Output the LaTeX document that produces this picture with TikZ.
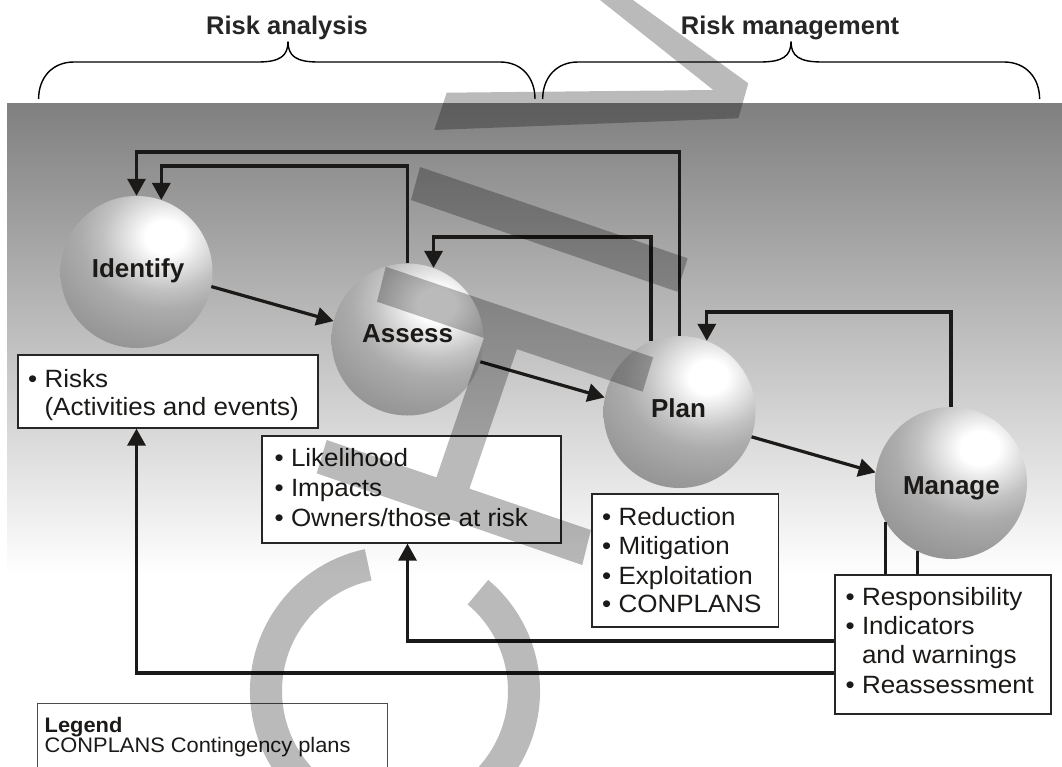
\documentclass[tikz,border=0pt]{standalone}
\usepackage{fontspec}
\setmainfont{Liberation Sans}
\newfontfamily\wf{Liberation Sans}[FakeStretch=1.04]
\usetikzlibrary{arrows.meta,calc}

\definecolor{s0}{RGB}{255,255,255}
\definecolor{s1}{RGB}{226,226,226}
\definecolor{s2}{RGB}{194,194,194}
\definecolor{s3}{RGB}{172,172,172}
\definecolor{s4}{RGB}{156,156,156}
\definecolor{s5}{RGB}{136,136,136}
\definecolor{s6}{RGB}{104,104,104}
\definecolor{s7}{RGB}{76,76,76}
\definecolor{s8}{RGB}{62,62,62}
\definecolor{ink}{RGB}{28,26,24}
\pgfdeclareradialshading{sph}{\pgfpointorigin}{color(0bp)=(s0); color(3.5bp)=(s0); color(7bp)=(s1); color(11bp)=(s2); color(15bp)=(s3); color(21bp)=(s4); color(30bp)=(s5); color(40bp)=(s6); color(46bp)=(s7); color(50bp)=(s8)}

\tikzset{
  sphere/.style={circle, minimum size=152pt, inner sep=0pt,
    path picture={\shade[shading=sph] ($(path picture bounding box.center)+(28.7,-35)$) ellipse [x radius=140, y radius=120];}},
  splabel/.style={font=\fontsize{26}{30}\selectfont\bfseries, text=ink, inner sep=0pt, anchor=base},
  head/.style={font=\fontsize{25.5}{30}\selectfont\bfseries, text=black!85, inner sep=0pt, anchor=base},
  infobox/.style={draw=black!85, line width=1.6pt, fill=white, inner sep=0pt, anchor=north west},
  btxt/.style={font=\wf\fontsize{25}{30}\selectfont, text=ink, inner sep=0pt, anchor=base west},
  lgtxt/.style={font=\wf\fontsize{21}{24}\selectfont, text=ink, inner sep=0pt, anchor=base west},
  conn/.style={draw=ink, line width=3.2pt},
  arr/.style={conn, -{Triangle[length=17pt,width=18pt]}},
  brace/.style={draw=black, line width=1.4pt},
  wm/.style={fill=black, fill opacity=0.27}
}

\begin{document}
\begin{tikzpicture}[x=1pt,y=-1pt]
\useasboundingbox (0,0) rectangle (1062,766);
\clip (0,0) rectangle (1062,766);
\fill[white] (0,0) rectangle (1062,766);
\shade[top color=gray, bottom color=white] (7,103) rectangle (1062,575);

% braces and headings
\draw[brace] (38.6,99) .. controls (38.6,78) and (52,62) .. (74,62) -- (258,62)
  .. controls (280,62) and (288,56) .. (288,41.5)
  .. controls (288,56) and (296,62) .. (318,62) -- (500,62)
  .. controls (522,62) and (535,78) .. (535,99);
\draw[brace] (542.7,99) .. controls (542.7,78) and (556,62) .. (578,62) -- (760,62)
  .. controls (783,62) and (791,56) .. (791,41.5)
  .. controls (791,56) and (799,62) .. (822,62) -- (1004,62)
  .. controls (1026,62) and (1039.6,78) .. (1039.6,99);
\node[head] (hra) at (287,34.3) {Risk analysis};
\node[head] (hrm) at (790,34.3) {Risk management};

% spheres
\node[sphere] (identify) at (136.5,272) {};
\node[sphere] (assess) at (407.5,339.5) {};
\node[sphere] (plan) at (679.5,412) {};
\node[sphere] (manage) at (951,483) {};
\node[splabel] (identifyL) at (138,277.3) {Identify};
\node[splabel] (assessL) at (407.6,342.8) {Assess};
\node[splabel] (planL) at (678.5,417.8) {Plan};
\node[splabel] (manageL) at (951.4,494) {Manage};

% connectors
\draw[arr] (identify.-11) -- (assess.166);
\draw[arr] (assess.-17) -- (plan.169);
\draw[arr] (plan.-19) -- (manage.172);
\draw[arr] (plan.north) -- (plan.north |- 0,152) -- (identify.north |- 0,152) -- (identify.north);
\draw[arr] (assess.north) -- (assess.north |- 0,166) -| (identify.71);
\draw[arr] (plan.112) -- (plan.112 |- 0,237) -| (assess.70);
\draw[arr] (manage.north) -- (manage.north |- 0,312) -| (plan.69);

% boxes
\node[infobox, minimum width=300pt, minimum height=73pt] (risks) at (17,354) {};
\node[infobox, minimum width=299pt, minimum height=107pt] (lik) at (261,435) {};
\node[infobox, minimum width=186.5pt, minimum height=133pt] (planbox) at (591,493) {};

\draw[arr] (manage.-149) -- (manage.-149 |- 0,641) -- (assess.south |- 0,641) -- (lik.south -| assess.south);
\draw[arr] (manage.-116) -- (manage.-116 |- 0,673) -- (identify.south |- 0,673) -- (risks.south -| identify.south);

\node[infobox, minimum width=216pt, minimum height=139pt] (mgbox) at (834,574) {};
\node[infobox, draw=black!70, line width=1pt, minimum width=349.4pt, minimum height=80pt] (legend) at (37.3,703.3) {};

% box texts
\node[btxt] (r1) at (28,387) {• Risks};
\node[btxt] (r2) at (28,415) {\hphantom{• }(Activities and events)};
\node[btxt] (l1) at (274.5,466.7) {• Likelihood};
\node[btxt] (l2) at (274.5,496) {• Impacts};
\node[btxt] (l3) at (274.5,526) {• Owners/those at risk};
\node[btxt] (p1) at (602,525) {• Reduction};
\node[btxt] (p2) at (602,554) {• Mitigation};
\node[btxt] (p3) at (602,584) {• Exploitation};
\node[btxt] (p4) at (602,612.7) {• CONPLANS};
\node[btxt] (m1) at (845.5,605) {• Responsibility};
\node[btxt] (m2) at (845.5,634) {• Indicators};
\node[btxt] (m3) at (845.5,663) {\hphantom{• }and warnings};
\node[btxt] (m4) at (845.5,693.3) {• Reassessment};
\node[lgtxt, font=\wf\fontsize{21}{24}\selectfont\bfseries] (lg1) at (44.5,732.7) {Legend};
\node[lgtxt] (lg2) at (44.5,752.7) {CONPLANS Contingency plans};

% watermark
\fill[wm] (587.4,-10) -- (619.1,-10) -- (748.3,83.3) -- (738.3,118.3) -- (434.3,130) -- (446.7,92.7) -- (713.3,90) -- cycle
  (420,167) -- (687.6,258.3) -- (677.3,291.7) -- (411,200) -- cycle
  (385.7,266.7) -- (653.1,357.3) -- (642.7,391.7) -- (377,301.7) -- cycle
  (486.7,330) -- (520.1,340) -- (465.5,500) -- (430.4,495) -- cycle
  (326.7,440) -- (590.9,530) -- (582.2,565) -- (316.7,473.3) -- cycle
  ($(395,691)+(-102:145)$) arc[start angle=-102, end angle=-410, radius=145]
  -- ($(395,691)+(-410:113)$) arc[start angle=-410, end angle=-102, radius=113] -- cycle;
\end{tikzpicture}
\end{document}
